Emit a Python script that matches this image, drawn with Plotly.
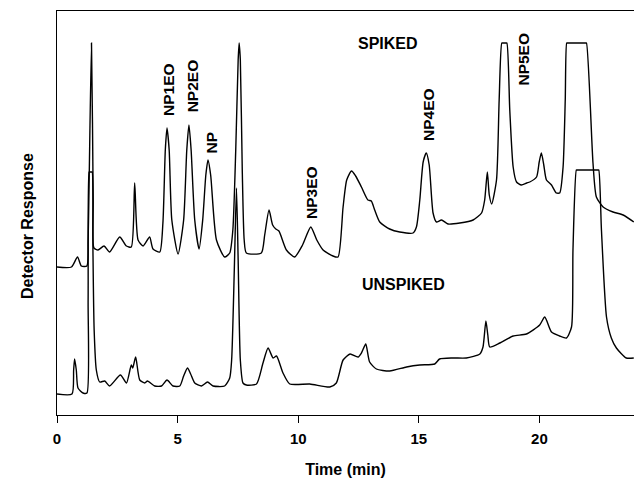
import plotly.graph_objects as go

# Retention time (min) and detector response (arbitrary units) — spiked sample (offset trace)
spiked_time = [0.00, 0.60, 0.85, 1.01, 1.24, 1.29, 1.43, 1.50, 1.53, 1.70, 1.95, 2.18, 2.60, 2.88, 3.08,
               3.22, 3.36, 3.57, 3.84, 3.98, 4.26, 4.39, 4.49, 4.56, 4.65, 4.76, 5.02, 5.25, 5.38, 5.47,
               5.56, 5.71, 5.89, 6.04, 6.17, 6.26, 6.37, 6.61, 6.95, 7.16, 7.29, 7.41, 7.51, 7.55, 7.60,
               7.68, 7.76, 7.85, 8.47, 8.61, 8.79, 8.94, 9.07, 9.20, 9.51, 9.85, 10.18, 10.52, 10.77,
               11.03, 11.44, 11.65, 11.86, 12.01, 12.21, 12.38, 12.62, 12.89, 13.03, 13.17, 13.38, 13.79,
               14.21, 14.76, 14.90, 15.04, 15.18, 15.31, 15.43, 15.59, 15.73, 15.94, 16.21, 16.70, 17.25,
               17.60, 17.73, 17.84, 17.92, 18.02, 18.22, 18.33, 18.44, 18.48, 18.61, 18.65, 18.77, 18.91,
               19.05, 19.25, 19.47, 19.60, 19.88, 19.99, 20.08, 20.18, 20.29, 20.50, 20.70, 20.84, 20.98,
               21.07, 21.13, 21.16, 21.92, 21.95, 22.22, 22.36, 22.64, 23.05, 23.47, 23.91]
spiked_resp = [148, 148, 158, 149, 149, 175, 372, 215, 167, 165, 169, 163, 178, 169, 168,
               232, 175, 169, 178, 166, 163, 192, 265, 287, 265, 195, 161, 195, 265, 290,
               265, 195, 166, 195, 240, 255, 240, 175, 158, 162, 185, 265, 355, 372, 355,
               245, 175, 162, 162, 180, 205, 190, 186, 184, 165, 158, 170, 188, 175,
               165, 159, 158, 208, 235, 244, 239, 228, 215, 214, 205, 193, 186,
               183, 182, 188, 215, 253, 262, 250, 202, 193, 195, 191, 192, 195,
               202, 215, 243, 220, 211, 235, 315, 372, 372, 372, 372, 305, 248,
               233, 230, 232, 233, 238, 253, 262, 250, 235, 230, 222, 222, 248,
               315, 372, 372, 372, 372, 252, 218, 208, 203, 200, 193]

# Unspiked sample
unspiked_time = [0.00, 0.62, 0.69, 0.73, 0.80, 0.87, 1.08, 1.24, 1.29, 1.33, 1.35, 1.44, 1.46, 1.49, 1.54,
                 1.63, 1.77, 1.98, 2.18, 2.63, 2.88, 3.08, 3.14, 3.26, 3.43, 3.64, 3.75, 4.05, 4.33, 4.56,
                 4.81, 5.09, 5.25, 5.41, 5.54, 5.71, 5.99, 6.24, 6.47, 6.95, 7.16, 7.24, 7.35, 7.44, 7.51,
                 7.60, 7.71, 7.85, 8.27, 8.54, 8.75, 8.96, 9.10, 9.37, 9.65, 10.48, 11.31, 11.58, 11.86,
                 12.15, 12.48, 12.62, 12.80, 12.96, 13.24, 13.79, 14.49, 15.04, 15.66, 15.86, 16.42, 16.97,
                 17.53, 17.66, 17.78, 17.86, 17.94, 18.36, 18.91, 19.46, 20.01, 20.22, 20.50, 20.84, 21.12,
                 21.33, 21.39, 21.53, 21.56, 22.43, 22.46, 22.57, 22.78, 22.98, 23.19, 23.60, 23.91]
unspiked_resp = [21, 21, 45, 56, 45, 27, 22, 22, 115, 243, 243, 243, 243, 165, 85,
                 45, 33, 34, 29, 40, 32, 50, 47, 58, 35, 32, 34, 29, 29, 35,
                 29, 29, 39, 47, 41, 32, 29, 33, 29, 29, 37, 55, 145, 227, 155,
                 55, 32, 30, 31, 52, 67, 57, 59, 42, 31, 31, 28, 32, 55,
                 61, 58, 62, 71, 53, 46, 44, 48, 50, 51, 56, 57, 57,
                 61, 68, 94, 80, 68, 72, 79, 81, 90, 98, 83, 79, 77,
                 88, 165, 245, 245, 245, 245, 185, 98, 77, 67, 57, 57]

x_ticks = [0, 5, 10, 15, 20]

peak_labels = ["NP1EO", "NP2EO", "NP", "NP3EO", "NP4EO", "NP5EO"]
peak_label_time = [4.60, 5.61, 6.40, 10.55, 15.38, 19.32]
peak_label_resp = [326, 329, 273, 222.5, 300, 355.5]

trace_labels = ["SPIKED", "UNSPIKED"]
trace_label_time = [13.72, 14.37]
trace_label_resp = [372, 131]

FONT = "Arial, Liberation Sans, Helvetica, sans-serif"

fig = go.Figure()
for tx, ty in ((spiked_time, spiked_resp), (unspiked_time, unspiked_resp)):
    fig.add_trace(go.Scatter(x=tx, y=ty, mode="lines",
                             line=dict(color="black", width=1.4, shape="spline", smoothing=0.6),
                             showlegend=False))

annotations = []
for lab, t, r in zip(peak_labels, peak_label_time, peak_label_resp):
    annotations.append(dict(x=t, y=r, xref="x", yref="y", text=lab, textangle=-90,
                            showarrow=False, xanchor="center", yanchor="middle",
                            font=dict(family=FONT, size=15.5, color="black", weight="bold")))
for lab, t, r in zip(trace_labels, trace_label_time, trace_label_resp):
    annotations.append(dict(x=t, y=r, xref="x", yref="y", text=lab,
                            showarrow=False, xanchor="center", yanchor="middle",
                            font=dict(family=FONT, size=16, color="black", weight="bold")))
annotations.append(dict(x=0, y=188.5, xref="paper", yref="y", xshift=-29.5,
                        text="Detector Response", textangle=-90, showarrow=False,
                        xanchor="center", yanchor="middle",
                        font=dict(family=FONT, size=16, color="black", weight="bold")))

fig.update_layout(
    width=634, height=479,
    margin=dict(l=57, r=0, t=11, b=64),
    paper_bgcolor="white", plot_bgcolor="white",
    annotations=annotations,
    xaxis=dict(range=[0, 23.92], tickvals=x_ticks, ticktext=[str(v) for v in x_ticks],
               ticks="outside", ticklen=7, tickcolor="black", tickwidth=1,
               ticklabelstandoff=3,
               showline=True, linecolor="black", linewidth=1, mirror=True,
               showgrid=False, zeroline=False,
               tickfont=dict(family=FONT, size=15, color="black", weight="bold"),
               title=dict(text="Time (min)", standoff=17,
                          font=dict(family=FONT, size=16, color="black", weight="bold"))),
    yaxis=dict(range=[0, 404], showticklabels=False, ticks="",
               showline=True, linecolor="black", linewidth=1,
               showgrid=False, zeroline=False),
)

fig.write_html("out.html")
